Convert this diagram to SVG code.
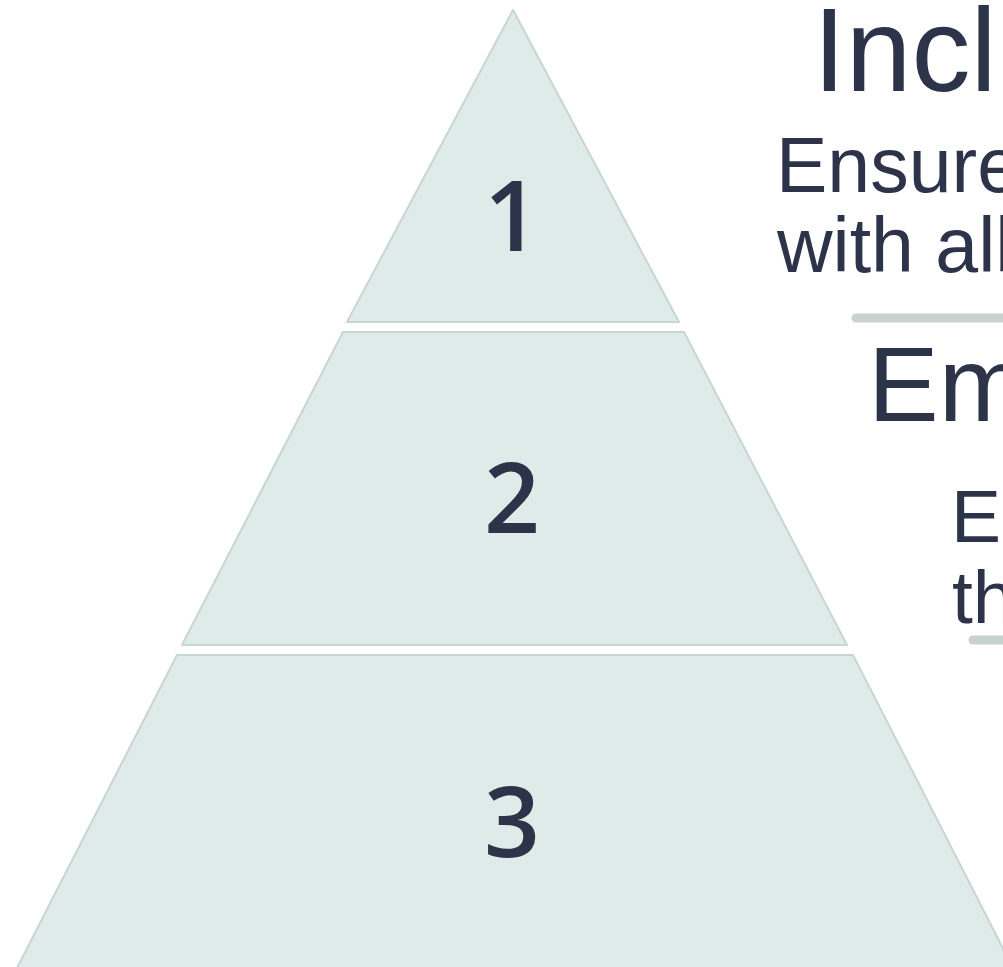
<svg xmlns="http://www.w3.org/2000/svg" width="1003" height="967" viewBox="0 0 1003 967">
<style>
.layer{fill:#dfebe8;stroke:#c8d6d2;stroke-width:2;stroke-linejoin:round}
.num{font-family:"Open Sans","Noto Sans",sans-serif;font-weight:600;font-size:98px;fill:#2d3349;text-anchor:middle}
.t{font-family:"Liberation Sans",Arial,sans-serif;fill:#2d3349}
.sep{stroke:#c8d3d0;stroke-width:9;stroke-linecap:round;fill:none}
</style>
<rect width="1003" height="967" fill="#ffffff"/>
<g id="layer1">
<polygon class="layer" points="513,10 679,322 347,322"/>
<text class="num" x="512" y="251">1</text>
</g>
<g id="layer2">
<polygon class="layer" points="343,332 684,332 847,645 182,645"/>
<text class="num" x="512" y="533">2</text>
</g>
<g id="layer3">
<polygon class="layer" points="177,655 853,655 1014,970 16,970"/>
<text class="num" x="512" y="857">3</text>
</g>
<g id="label1">
<text class="t" x="813" y="91" font-size="118">Incl</text>
<text class="t" x="776" y="192" font-size="77">Ensure</text>
<text class="t" x="777" y="272" font-size="77">with alb</text>
</g>
<g id="label2">
<text class="t" x="868" y="421" font-size="106">Em</text>
<text class="t" x="951" y="542" font-size="75">E</text>
<text class="t" x="952" y="623" font-size="75">th</text>
</g>
<g id="connectors">
<line class="sep" x1="856" y1="318" x2="1020" y2="318"/>
<line class="sep" x1="973" y1="640" x2="1020" y2="640" stroke-width="8"/>
</g>
</svg>
